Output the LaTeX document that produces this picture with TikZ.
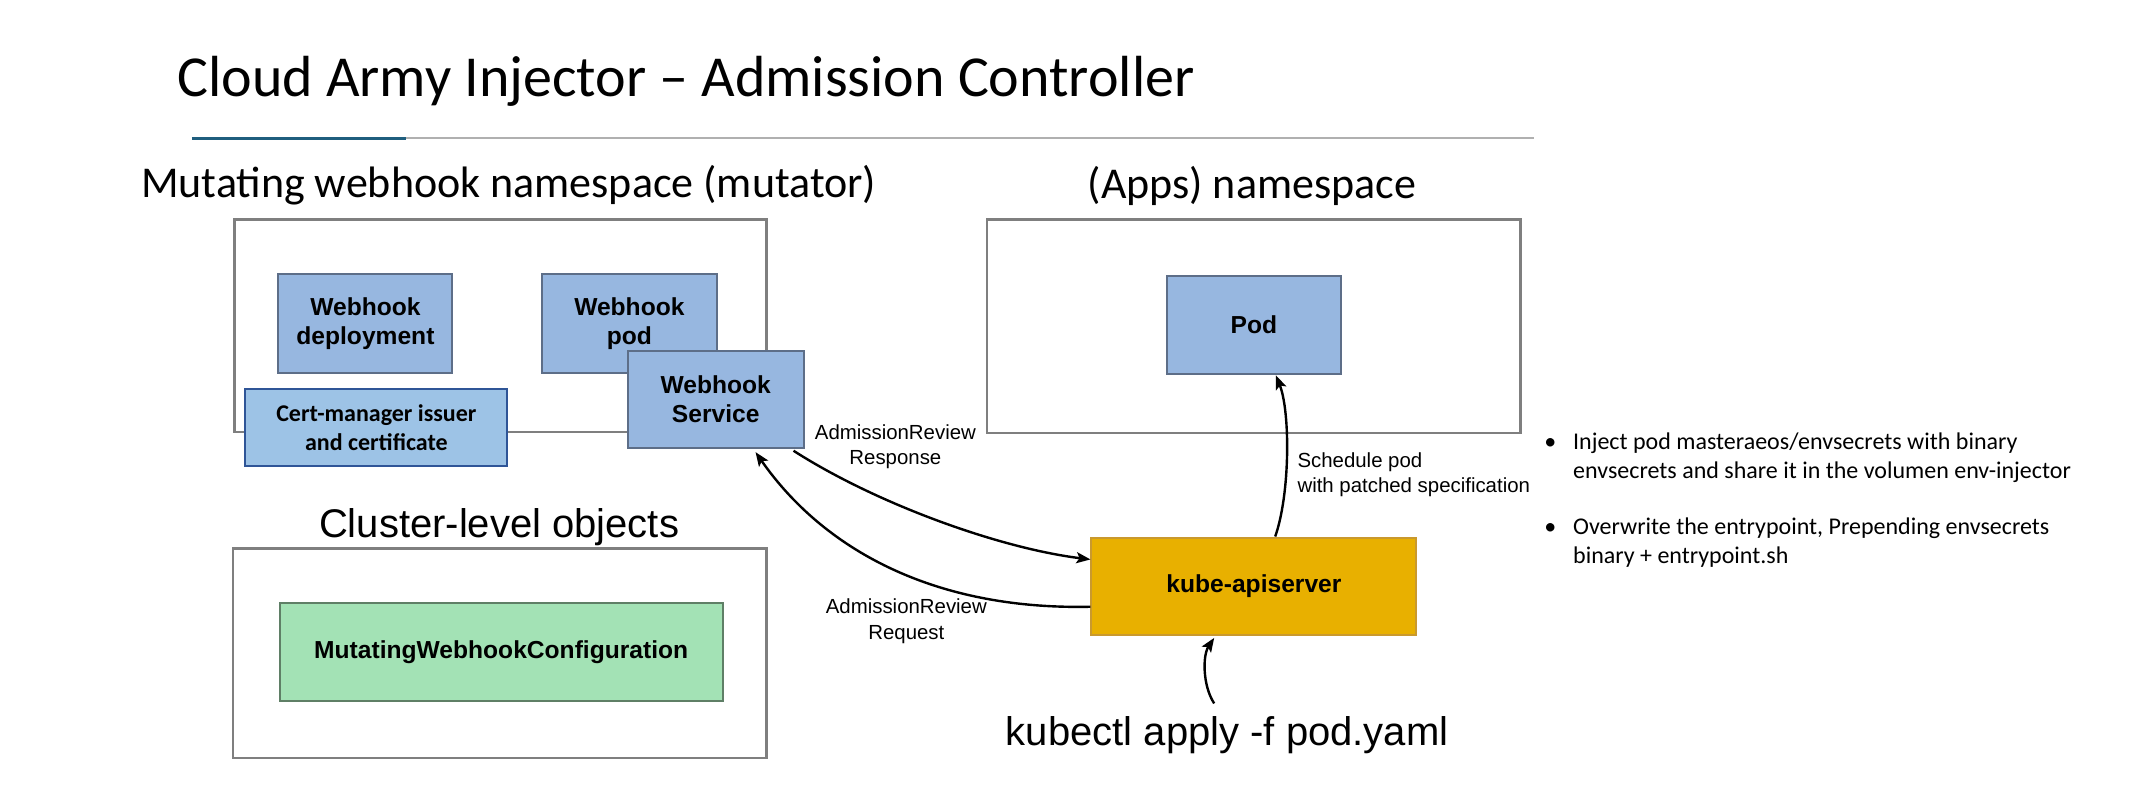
\documentclass[tikz,border=0pt]{standalone}
\usepackage{fontspec}
\setmainfont{Carlito}
\newfontfamily\helv{Liberation Sans}
\usetikzlibrary{arrows.meta,calc}
\def\U{0.6856pt}
\definecolor{bluefill}{HTML}{97B7E0}
\definecolor{blueedge}{HTML}{5D6E88}
\definecolor{certfill}{HTML}{9DC3E6}
\definecolor{certedge}{HTML}{2F5597}
\definecolor{greenfill}{HTML}{A3E2B5}
\definecolor{greenedge}{HTML}{5F7F66}
\definecolor{goldfill}{HTML}{E8B000}
\definecolor{goldedge}{HTML}{C9992E}
\definecolor{framegray}{HTML}{7F7F7F}
\definecolor{rulegray}{HTML}{B0B0B0}
\definecolor{ruleblue}{HTML}{1F5E7E}
\tikzset{
  frame/.style={draw=framegray, line width=1.2pt},
  objbox/.style={draw=blueedge, fill=bluefill, line width=1pt, inner sep=0pt,
     align=center, font=\helv\fontsize{12.3}{14.5}\selectfont\bfseries},
  certbox/.style={draw=certedge, fill=certfill, line width=1pt, inner sep=0pt,
     align=center, font=\fontsize{12}{14.5}\selectfont\bfseries},
  greenbox/.style={objbox, draw=greenedge, fill=greenfill},
  goldbox/.style={objbox, draw=goldedge, fill=goldfill},
  lbl/.style={font=\helv\fontsize{10.2}{12.7}\selectfont, align=center, inner sep=0pt},
  conn/.style={line width=1.2pt, -{Stealth[length=7pt,width=5.5pt,inset=1.5pt]}},
  bul/.style={font=\fontsize{12}{14.4}\selectfont, align=left, inner sep=0pt, anchor=base west}
}
\begin{document}
\begin{tikzpicture}[x=\U, y=-\U]
\useasboundingbox[fill=white] (0,0) rectangle (1568,589.3);

% title and rule
\node[anchor=base west, inner sep=0pt, font=\fontsize{29}{34}\selectfont] (title) at (129,70.5)
  {Cloud Army Injector – Admission Controller};
\coordinate (r0) at (140,101);
\coordinate (r1) at (296,101);
\coordinate (r2) at (1119,101);
\draw[rulegray, line width=1pt] (r1) -- (r2);
\draw[ruleblue, line width=1.2pt] (r0) -- (r1);

% headings
\node[anchor=base, inner sep=0pt, font=\fontsize{22}{26}\selectfont] (hmut) at (371,144)
  {Mutating webhook namespace (mutator)};
\node[anchor=base, inner sep=0pt, font=\fontsize{22}{26}\selectfont] (happs) at (913,145)
  {(Apps) namespace};
\node[anchor=base, inner sep=0pt, font=\helv\fontsize{20}{24}\selectfont] (hclu) at (364,392)
  {Cluster-level objects};

% containers
\node[frame, minimum width=388*\U, minimum height=155*\U, inner sep=0pt] (mutator) at (365,237.5) {};
\node[frame, minimum width=389*\U, minimum height=156*\U, inner sep=0pt] (apps) at (914.5,238) {};
\node[frame, minimum width=389*\U, minimum height=153*\U, inner sep=0pt] (cluster) at (364.5,476.5) {};

% mutator contents
\node[objbox, minimum width=127*\U, minimum height=72*\U] (depl) at (266.5,236) {Webhook\\deployment};
\node[objbox, minimum width=128*\U, minimum height=72*\U] (wpod) at (459,236) {Webhook\\pod};
\node[objbox, minimum width=128*\U, minimum height=71*\U] (wsvc) at (522,291.5) {Webhook\\Service};
\node[certbox, minimum width=191*\U, minimum height=56*\U] (cert) at (274.5,312) {Cert-manager issuer\\and certificate};

% apps contents
\node[objbox, minimum width=127*\U, minimum height=72*\U] (pod) at (914.5,237) {Pod};

% cluster contents
\node[greenbox, minimum width=323*\U, minimum height=71*\U] (mwc) at (365.5,475.5) {MutatingWebhookConfiguration};

% api server
\node[goldbox, minimum width=237*\U, minimum height=71*\U] (kube) at (914.5,427.5) {kube-apiserver};

% kubectl text
\node[anchor=base, inner sep=0pt, font=\helv\fontsize{20}{24}\selectfont] (kubectl) at (895,543.5)
  {kubectl apply -f pod.yaml};
\coordinate (kstart) at (885.5,513);

% connector labels
\node[lbl] (lresp) at (653,326) {AdmissionReview\\Response};
\node[lbl] (lreq) at (661,453) {AdmissionReview\\Request};
\node[lbl, align=left, anchor=west] (lsched) at (946,346) {Schedule pod\\with patched specification};

% connectors
\draw[conn] ($(wsvc.south east)+(-8,1)$) .. controls (640,368) and (730,400) .. ($(kube.west)+(0,-19.5)$);
\draw[conn] ($(kube.west)+(0,15)$) .. controls (680,445) and (600,400) .. ($(wsvc.south)+(29,2)$);
\draw[conn] ($(kube.north)+(15.5,0)$) .. controls (941,360) and (941,300) .. ($(pod.south)+(16,0)$);
\draw[conn] (kstart) .. controls (877,500) and (877,478) .. ($(kube.south)+(-29,1.5)$);

% bullets (node base = baseline of last line)
\node[bul] (b1dot) at (1126,328) {•};
\node[bul] (b1) at (1147,349) {Inject pod masteraeos/envsecrets with binary\\envsecrets and share it in the volumen env-injector};
\node[bul] (b2dot) at (1126,390) {•};
\node[bul] (b2) at (1147,411) {Overwrite the entrypoint, Prepending envsecrets\\binary + entrypoint.sh};
\end{tikzpicture}
\end{document}
